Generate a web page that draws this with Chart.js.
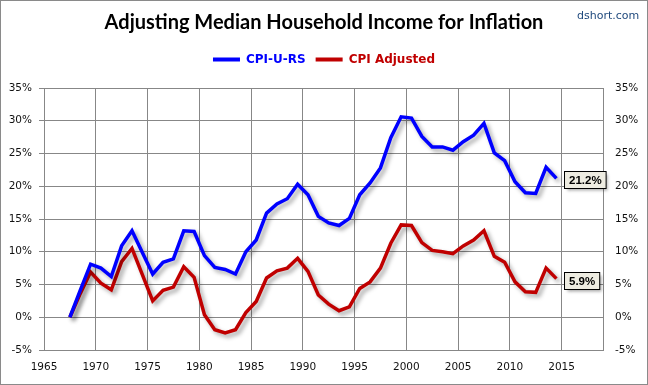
<!DOCTYPE html>
<html><head><meta charset="utf-8">
<script src="https://cdn.jsdelivr.net/npm/chart.js@4/dist/chart.umd.min.js"></script>
<style>html,body{margin:0;padding:0;background:#fff}#wrap{width:648px;height:385px;position:relative}</style>
</head><body><div id="wrap"><canvas id="c" width="648" height="385"></canvas></div>
<script>
const years = [1967,1968,1969,1970,1971,1972,1973,1974,1975,1976,1977,1978,1979,1980,1981,1982,1983,1984,1985,1986,1987,1988,1989,1990,1991,1992,1993,1994,1995,1996,1997,1998,1999,2000,2001,2002,2003,2004,2005,2006,2007,2008,2009,2010,2011,2012,2013,2014];
const cpiURS = [0,4.1,8.1,7.5,6.2,10.9,13.2,9.9,6.6,8.4,8.9,13.2,13.1,9.4,7.6,7.3,6.6,10.0,11.8,15.9,17.3,18.1,20.3,18.7,15.4,14.4,14.0,15.1,18.7,20.5,22.8,27.4,30.6,30.4,27.6,26.0,26.0,25.5,26.8,27.8,29.6,25.1,23.9,20.7,19.0,18.9,22.9,21.2];
const cpiAdjusted = [0,3.6,6.9,5.2,4.2,8.5,10.5,6.5,2.5,4.1,4.6,7.7,6.1,0.4,-1.9,-2.4,-1.9,0.7,2.4,6.0,7.1,7.5,9.0,7.0,3.4,2.0,1.0,1.6,4.4,5.4,7.5,11.3,14.1,14.0,11.4,10.2,10.0,9.7,10.9,11.8,13.2,9.3,8.4,5.4,3.9,3.8,7.5,5.9];
const seriesNames = ['CPI-U-RS','CPI Adjusted'];
const seriesColors = ['#0000FF','#C00000'];
const xTickYears = [1965,1970,1975,1980,1985,1990,1995,2000,2005,2010,2015];
const yTickValues = [-5,0,5,10,15,20,25,30,35];
const titleText = 'Adjusting Median Household Income for Inflation';
const sourceText = 'dshort.com';

const toPoints = vals => years.map((yr, i) => ({x: yr + 0.5, y: vals[i]}));

const gridColor = '#878787';
const tickFont = {family: 'DejaVu Sans', size: 10.5};

const bgPlugin = {
  id: 'bg',
  beforeDraw(chart) {
    const ctx = chart.ctx;
    ctx.save();
    ctx.fillStyle = '#fff';
    ctx.fillRect(0, 0, chart.width, chart.height);
    ctx.strokeStyle = '#8a8a8a';
    ctx.lineWidth = 1;
    ctx.strokeRect(0.5, 0.5, chart.width - 1, chart.height - 1);
    ctx.restore();
  },
  afterDraw(chart) {
    const ctx = chart.ctx;
    ctx.save();
    ctx.font = '11px "DejaVu Sans"';
    ctx.fillStyle = '#1F497D';
    ctx.textBaseline = 'middle';
    ctx.textAlign = 'left';
    ctx.fillText(sourceText, 577, 16);
    ctx.restore();
  }
};

const shadowPlugin = {
  id: 'lineShadow',
  beforeDatasetDraw(chart) {
    const ctx = chart.ctx;
    ctx.save();
    ctx.shadowColor = 'rgba(0,0,0,0.35)';
    ctx.shadowBlur = 4;
    ctx.shadowOffsetX = 3;
    ctx.shadowOffsetY = 3;
  },
  afterDatasetDraw(chart) {
    chart.ctx.restore();
  }
};

const labelPlugin = {
  id: 'lastLabels',
  afterDatasetsDraw(chart) {
    const ctx = chart.ctx;
    chart.data.datasets.forEach((ds, i) => {
      const meta = chart.getDatasetMeta(i);
      const pt = meta.data[meta.data.length - 1];
      const v = ds.data[ds.data.length - 1].y;
      const txt = v.toFixed(1) + '%';
      ctx.save();
      ctx.font = 'bold 11.5px "Liberation Sans"';
      const w = ctx.measureText(txt).width + 9;
      const h = 17;
      const bx = Math.round(pt.x + 7.5) + 0.5;
      const by = Math.round(pt.y + 1.5 - h / 2) + 0.5;
      ctx.shadowColor = 'rgba(0,0,0,0.35)';
      ctx.shadowBlur = 3;
      ctx.shadowOffsetX = 2;
      ctx.shadowOffsetY = 2;
      ctx.fillStyle = '#EEECE1';
      ctx.fillRect(bx, by, w, h);
      ctx.shadowColor = 'transparent';
      ctx.strokeStyle = '#000';
      ctx.lineWidth = 1;
      ctx.strokeRect(bx, by, w, h);
      ctx.fillStyle = '#000';
      ctx.textBaseline = 'middle';
      ctx.textAlign = 'center';
      ctx.fillText(txt, bx + w / 2, by + h / 2 + 0.5);
      ctx.restore();
    });
  }
};

new Chart(document.getElementById('c'), {
  type: 'line',
  data: {
    datasets: [
      {label: seriesNames[0], data: toPoints(cpiURS), borderColor: seriesColors[0], backgroundColor: seriesColors[0], borderWidth: 3.5, pointRadius: 0, tension: 0, yAxisID: 'y'},
      {label: seriesNames[1], data: toPoints(cpiAdjusted), borderColor: seriesColors[1], backgroundColor: seriesColors[1], borderWidth: 3.5, pointRadius: 0, tension: 0, yAxisID: 'y'}
    ]
  },
  options: {
    responsive: false,
    animation: false,
    events: [],
    layout: {padding: 0},
    plugins: {
      title: {display: true, text: titleText, color: '#000', font: {family: 'Lato', size: 20, weight: 'bold'}, padding: {top: 11, bottom: 8.5}},
      subtitle: {display: true, text: ' ', weight: 500, font: {size: 1}, padding: {top: 0, bottom: 11.3}},
      legend: {
        display: true,
        position: 'top',
        labels: {
          boxWidth: 27, boxHeight: 4, padding: 10,
          font: {family: 'DejaVu Sans', size: 12, weight: 'bold'},
          generateLabels(chart) {
            return chart.data.datasets.map((ds, i) => ({
              text: ds.label, fillStyle: ds.borderColor, strokeStyle: ds.borderColor,
              lineWidth: 0, fontColor: ds.borderColor, hidden: false, datasetIndex: i
            }));
          }
        }
      },
      tooltip: {enabled: false}
    },
    scales: {
      x: {
        type: 'linear', min: 1965, max: 2019,
        afterBuildTicks(scale) { scale.ticks = xTickYears.map(v => ({value: v})); },
        afterFit(scale) { scale.height = 35; },
        ticks: {font: tickFont, color: '#111', padding: 11, maxRotation: 0, autoSkip: false, callback: v => String(v)},
        grid: {color: gridColor, lineWidth: 1, drawTicks: false},
        border: {color: gridColor, width: 1}
      },
      y: {
        position: 'left', min: -5, max: 35,
        afterBuildTicks(scale) { scale.ticks = yTickValues.map(v => ({value: v})); },
        afterFit(scale) { scale.width = 44; },
        ticks: {font: tickFont, color: '#111', padding: 7, callback: v => v + '%'},
        grid: {color: gridColor, lineWidth: 1, tickLength: 5},
        border: {color: gridColor, width: 1}
      },
      y2: {
        position: 'right', min: -5, max: 35,
        afterBuildTicks(scale) { scale.ticks = yTickValues.map(v => ({value: v})); },
        afterFit(scale) { scale.width = 45; },
        ticks: {font: tickFont, color: '#111', padding: 7, callback: v => v + '%'},
        grid: {display: true, drawOnChartArea: false, color: 'rgba(0,0,0,0)', tickLength: 5},
        border: {color: gridColor, width: 1}
      }
    }
  },
  plugins: [bgPlugin, shadowPlugin, labelPlugin]
});
</script>
</body></html>
